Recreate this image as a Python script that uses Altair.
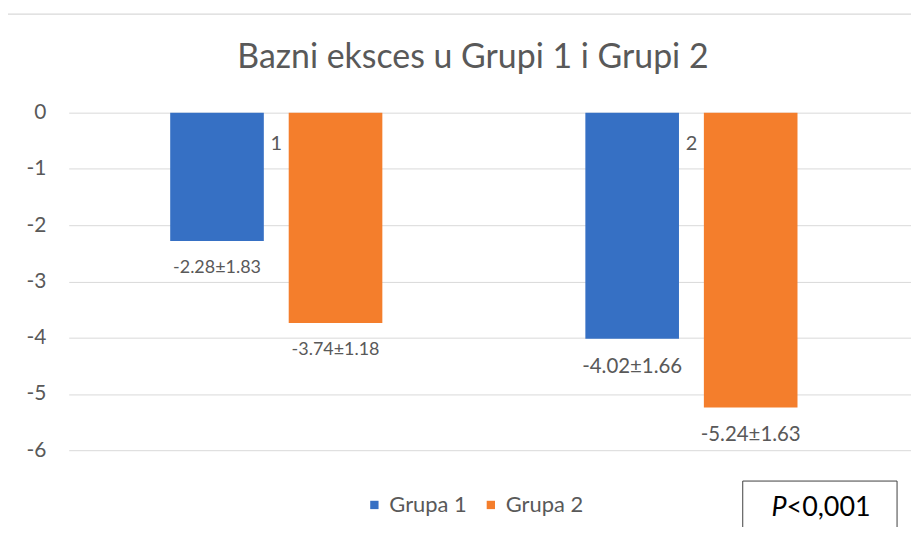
import altair as alt
import pandas as pd

# ---- data ----
categories = ["1", "2"]
series = ["Grupa 1", "Grupa 2"]
grupa1_mean = [-2.28, -4.02]
grupa1_sd = [1.83, 1.66]
grupa2_mean = [-3.74, -5.24]
grupa2_sd = [1.18, 1.63]
y_ticks = [0, -1, -2, -3, -4, -5, -6]
title_text = "Bazni eksces u Grupi 1 i Grupi 2"
p_italic = "P"
p_rest = "<0,001"

colors = ["#3670C4", "#F47E2C"]
FONT = "Lato"
GREY = "#595959"

rows = []
for i, c in enumerate(categories):
    for s, means, sds in [(series[0], grupa1_mean, grupa1_sd), (series[1], grupa2_mean, grupa2_sd)]:
        rows.append({"grp": c, "series": s, "value": means[i], "sd": sds[i],
                     "label": f"{means[i]:.2f}\u00b1{sds[i]:.2f}"})
df = pd.DataFrame(rows)
cat_df = pd.DataFrame({"grp": categories, "zero": [0] * len(categories)})
one = pd.DataFrame({"k": [0]})

W, H = 846, 339

xscale = alt.Scale(domain=categories, paddingInner=0.489, paddingOuter=0.2589, align=0.472)
xoff = alt.XOffset("series:N", scale=alt.Scale(domain=series, paddingInner=0.21, paddingOuter=0))
yscale = alt.Scale(domain=[-6, 0], nice=False, zero=False)

base = alt.Chart(df)

bars = base.mark_bar().encode(
    x=alt.X("grp:N", scale=xscale, axis=None),
    xOffset=xoff,
    y=alt.Y("value:Q", scale=yscale,
            axis=alt.Axis(values=y_ticks, title=None, domain=False, ticks=False,
                          labelExpr="datum.value == 0 ? '0' : '-' + abs(datum.value)",
                          labelPadding=23, labelFontSize=21, labelFont=FONT,
                          labelColor=GREY, gridColor="#D9D9D9", gridWidth=1)),
    y2=alt.datum(0),
    color=alt.Color("series:N", scale=alt.Scale(domain=series, range=colors),
                    legend=alt.Legend(title=None, orient="none", direction="horizontal",
                                      legendX=296, legendY=383, symbolType="square",
                                      symbolSize=70, symbolStrokeWidth=0,
                                      labelFontSize=22, labelFont=FONT, labelColor=GREY,
                                      columnPadding=13, symbolOffset=0)),
)

labels_g1 = base.transform_filter(alt.datum.grp == categories[0]).mark_text(
    font=FONT, fontSize=18, color=GREY, dy=27).encode(
    x=alt.X("grp:N", scale=xscale, axis=None),
    xOffset=xoff,
    y=alt.Y("value:Q", scale=yscale),
    text="label:N",
)
labels_g2 = base.transform_filter(alt.datum.grp == categories[1]).mark_text(
    font=FONT, fontSize=20.5, color=GREY, dy=28).encode(
    x=alt.X("grp:N", scale=xscale, axis=None),
    xOffset=xoff,
    y=alt.Y("value:Q", scale=yscale),
    text="label:N",
)

cat_labels = alt.Chart(cat_df).mark_text(font=FONT, fontSize=20, color=GREY, dy=31).encode(
    x=alt.X("grp:N", scale=xscale, axis=None),
    y=alt.Y("zero:Q", scale=yscale),
    text="grp:N",
)

border = alt.Chart(one).mark_rect(fill=None, stroke="#D9D9D9", strokeWidth=1.5, clip=False).encode(
    x=alt.value(-64), x2=alt.value(870), y=alt.value(-99), y2=alt.value(440)
)

title = alt.Chart(one).mark_text(font=FONT, fontSize=34, color=GREY,
                                 align="center", baseline="middle").encode(
    x=alt.value(406), y=alt.value(-55), text=alt.value(title_text)
)

pbox = alt.Chart(one).mark_rect(fill="white", stroke="#404040", strokeWidth=1, clip=False).encode(
    x=alt.value(677), x2=alt.value(832), y=alt.value(370), y2=alt.value(420)
)
p1 = alt.Chart(one).mark_text(font=FONT, fontSize=27, fontStyle="italic", color="black",
                              align="right", baseline="middle").encode(
    x=alt.value(721), y=alt.value(397), text=alt.value(p_italic)
)
p2 = alt.Chart(one).mark_text(font=FONT, fontSize=27, color="black",
                              align="left", baseline="middle").encode(
    x=alt.value(721), y=alt.value(397), text=alt.value(p_rest)
)

chart = alt.layer(border, title, bars, labels_g1, labels_g2, cat_labels, pbox, p1, p2).properties(
    width=W, height=H,
    autosize=alt.AutoSizeParams(type="none"),
    padding={"left": 61, "top": 104, "right": 0, "bottom": 76},
).configure_view(stroke=None)

chart.save("out.html", embed_options={"renderer": "svg", "actions": False})
